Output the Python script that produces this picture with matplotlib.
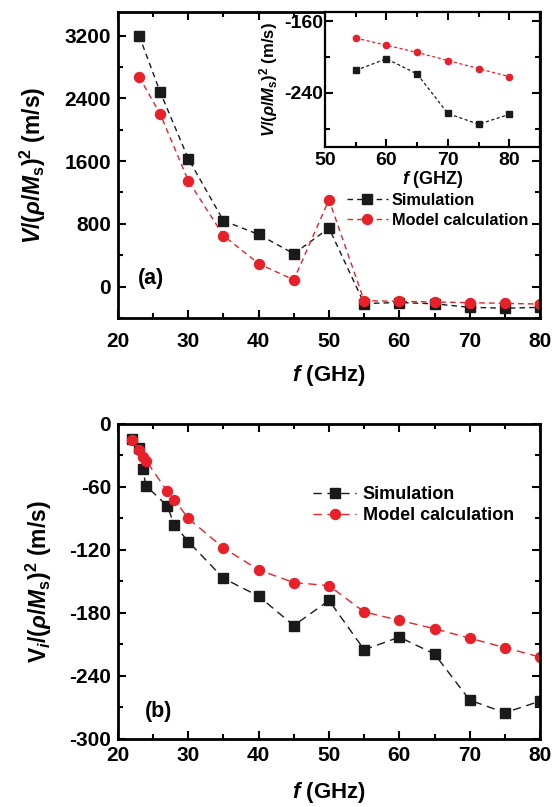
import matplotlib
matplotlib.use("Agg")
import matplotlib.pyplot as plt
from matplotlib.ticker import MultipleLocator

plt.rcParams['font.family'] = ['Liberation Sans', 'DejaVu Sans']
plt.rcParams['font.weight'] = 'bold'
plt.rcParams['axes.unicode_minus'] = False
plt.rcParams['mathtext.fontset'] = 'custom'
plt.rcParams['mathtext.rm'] = 'Liberation Sans:bold'
plt.rcParams['mathtext.it'] = 'Liberation Sans:bold:italic'
plt.rcParams['mathtext.bf'] = 'Liberation Sans:bold'

RED = '#e8202a'
BLACK = '#1a1a1a'

# (a) real part
f_a = [23, 26, 30, 35, 40, 45, 50, 55, 60, 65, 70, 75, 80]
v_sim = [3200, 2480, 1630, 840, 665, 420, 745, -215, -202, -219, -263, -275, -264]
v_model = [2675, 2200, 1350, 650, 293, 86, 1107, -179, -187, -195, -204, -213, -222]

# inset: high-frequency part
f_in = [55, 60, 65, 70, 75, 80]
v_in_sim = [-215, -202, -219, -263, -275, -264]
v_in_model = [-179, -187, -195, -204, -213, -222]

# (b) imaginary part
f_b = [22, 23, 23.5, 24, 27, 28, 30, 35, 40, 45, 50, 55, 60, 65, 70, 75, 80]
vi_sim = [-14, -23, -43, -59, -78, -96, -112, -147, -164, -192, -168, -215, -203, -219, -263, -275, -264]
vi_model = [-15, -25, -31, -35, -64, -72, -90, -118, -139, -151, -154, -179, -187, -195, -204, -213, -222]


def style_axes(ax, size=15, width=2.0, xpad=5, ypad=5):
    for s in ax.spines.values():
        s.set_linewidth(width)
    ax.tick_params(which='both', direction='in', top=True, right=True,
                   width=1.5, labelsize=size)
    ax.tick_params(axis='x', which='both', pad=xpad)
    ax.tick_params(axis='y', which='both', pad=ypad)
    ax.tick_params(which='major', length=6)
    ax.tick_params(which='minor', length=3.5)
    for lab in ax.get_xticklabels() + ax.get_yticklabels():
        lab.set_fontweight('bold')


fig = plt.figure(figsize=(5.55, 8.07), dpi=100)

ax1 = fig.add_axes([0.2126, 0.6059, 0.7604, 0.3792])
ax1.plot(f_a, v_sim, ls=(0, (4, 3)), lw=1, color=BLACK, marker='s', ms=6.7,
         mec=BLACK, mfc=BLACK, label='Simulation')
ax1.plot(f_a, v_model, ls=(0, (4, 3)), lw=1, color=RED, marker='o', ms=7.2,
         mec=RED, mfc=RED, label='Model calculation')
ax1.set_xlim(20, 80)
ax1.set_ylim(-400, 3500)
ax1.xaxis.set_major_locator(MultipleLocator(10))
ax1.xaxis.set_minor_locator(MultipleLocator(5))
ax1.yaxis.set_major_locator(MultipleLocator(800))
ax1.yaxis.set_minor_locator(MultipleLocator(400))
style_axes(ax1, size=15, xpad=10, ypad=5)
ax1.set_xlabel(r'$f$ (GHz)', fontsize=16, fontweight='bold', labelpad=9)
ax1.set_ylabel(r'$V/(\rho/M_{\mathrm{s}})^{\mathrm{2}}$ (m/s)', fontsize=16.5,
               fontweight='bold', labelpad=12)
ax1.text(0.047, 0.13, '(a)', transform=ax1.transAxes, fontsize=15.5,
         fontweight='bold', va='center')
ax1.legend(loc='upper left', bbox_to_anchor=(0.543, 0.408), frameon=False,
           fontsize=11.7, handlelength=2.5, handletextpad=0.25,
           labelspacing=0.3, borderaxespad=0, borderpad=0)

ax_in = fig.add_axes([0.5856, 0.8182, 0.3874, 0.1669])
ax_in.plot(f_in, v_in_sim, ls=(0, (2.5, 2)), lw=0.9, color=BLACK, marker='s',
           ms=4.3, mec=BLACK, mfc=BLACK)
ax_in.plot(f_in, v_in_model, ls=(0, (2.5, 2)), lw=0.9, color=RED, marker='o',
           ms=4.5, mec=RED, mfc=RED)
ax_in.set_xlim(50, 85)
ax_in.set_ylim(-300, -150)
ax_in.xaxis.set_major_locator(MultipleLocator(10))
ax_in.xaxis.set_minor_locator(MultipleLocator(5))
ax_in.yaxis.set_major_locator(MultipleLocator(80))
ax_in.yaxis.set_minor_locator(MultipleLocator(40))
ax_in.set_yticks([-240, -160])
style_axes(ax_in, size=14, width=1.6, xpad=4, ypad=1)
ax_in.set_xlabel(r'$f$ (GHZ)', fontsize=13, fontweight='bold', labelpad=0)
ax_in.set_ylabel(r'$V/(\rho/M_{\mathrm{s}})^{\mathrm{2}}$ (m/s)', fontsize=12,
                 fontweight='bold', labelpad=3)

ax2 = fig.add_axes([0.2126, 0.0843, 0.7604, 0.3903])
ax2.plot(f_b, vi_sim, ls=(0, (6, 4)), lw=1, color=BLACK, marker='s', ms=6.7,
         mec=BLACK, mfc=BLACK, label='Simulation')
ax2.plot(f_b, vi_model, ls=(0, (6, 4)), lw=1, color=RED, marker='o', ms=7.2,
         mec=RED, mfc=RED, label='Model calculation')
ax2.set_xlim(20, 80)
ax2.set_ylim(-300, 0)
ax2.xaxis.set_major_locator(MultipleLocator(10))
ax2.xaxis.set_minor_locator(MultipleLocator(5))
ax2.yaxis.set_major_locator(MultipleLocator(60))
ax2.yaxis.set_minor_locator(MultipleLocator(30))
style_axes(ax2, size=15, xpad=5, ypad=5)
ax2.set_xlabel(r'$f$ (GHz)', fontsize=16, fontweight='bold', labelpad=11)
ax2.set_ylabel(r'$\mathrm{V}_{i}/(\rho/M_{\mathrm{s}})^{\mathrm{2}}$ (m/s)',
               fontsize=16.5, fontweight='bold', labelpad=11)
ax2.text(0.064, 0.086, '(b)', transform=ax2.transAxes, fontsize=15.5,
         fontweight='bold', va='center')
ax2.legend(loc='upper left', bbox_to_anchor=(0.462, 0.803), frameon=False,
           fontsize=13, handlelength=2.4, handletextpad=0.35,
           labelspacing=0.22, borderaxespad=0, borderpad=0)

fig.savefig('out.png', dpi=100)
